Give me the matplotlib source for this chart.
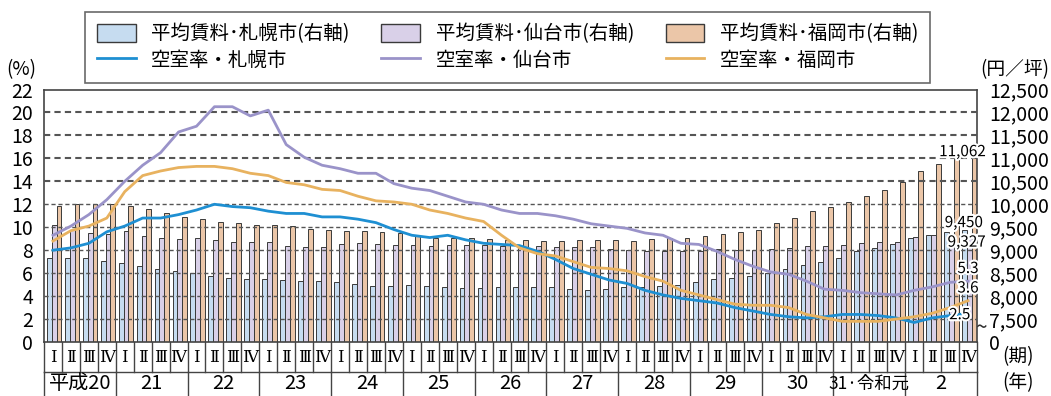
import numpy as np
import matplotlib.pyplot as plt
import matplotlib.transforms as mtransforms
from matplotlib.patches import Patch
from matplotlib.lines import Line2D
import matplotlib.patheffects as pe

plt.rcParams['font.family'] = ['Noto Sans CJK JP', 'DejaVu Sans']

quarters = ['Ⅰ', 'Ⅱ', 'Ⅲ', 'Ⅳ'] * 13
years = ['平成20', '21', '22', '23', '24', '25', '26', '27', '28', '29', '30', '31·令和元', '2']

# 平均賃料 (円/坪)
rent_sapporo = [8840, 8840, 8840, 8767, 8716, 8666, 8600, 8557, 8499, 8441, 8397, 8368, 8368,
                8346, 8324, 8324, 8303, 8274, 8223, 8223, 8245, 8223, 8208, 8172, 8172, 8194,
                8194, 8194, 8194, 8150, 8136, 8157, 8194, 8208, 8230, 8245, 8303, 8368, 8404,
                8441, 8513, 8593, 8673, 8746, 8840, 8992, 9043, 9130, 9261, 9341, 9399, 9450]
rent_sendai = [9551, 9435, 9377, 9348, 9421, 9312, 9261, 9239, 9261, 9225, 9188, 9174, 9188,
               9101, 9079, 9079, 9130, 9152, 9130, 9108, 9108, 9094, 9116, 9116, 9116, 9094,
               9094, 9101, 9079, 9079, 9065, 9029, 9014, 8992, 8978, 8985, 8992, 9029, 9014,
               9014, 9029, 9043, 9087, 9101, 9116, 9152, 9174, 9188, 9283, 9333, 9350, 9327]
rent_fukuoka = [9958, 10009, 10009, 10009, 9958, 9892, 9813, 9725, 9675, 9624, 9595, 9551, 9551,
                9529, 9464, 9435, 9413, 9413, 9392, 9377, 9341, 9268, 9261, 9261, 9239, 9225,
                9225, 9210, 9210, 9225, 9225, 9225, 9203, 9239, 9261, 9275, 9312, 9348, 9399,
                9450, 9588, 9711, 9849, 9936, 10059, 10176, 10321, 10480, 10720, 10887, 10996, 11062]

# 空室率 (%)
vac_sapporo = [8.0, 8.2, 8.6, 9.6, 10.1, 10.8, 10.8, 11.1, 11.5, 12.0, 11.8, 11.7, 11.4,
               11.2, 11.2, 10.9, 10.9, 10.7, 10.4, 9.8, 9.3, 9.1, 9.3, 8.9, 8.6, 8.5,
               8.4, 7.9, 7.2, 6.4, 5.9, 5.4, 5.1, 4.5, 4.1, 3.8, 3.6, 3.4, 3.0,
               2.7, 2.4, 2.2, 2.1, 2.2, 2.4, 2.4, 2.3, 2.1, 1.7, 2.1, 2.3, 2.5]
vac_sendai = [9.3, 10.1, 11.1, 12.4, 14.0, 15.4, 16.5, 18.3, 18.8, 20.5, 20.5, 19.7, 20.2,
              17.2, 16.1, 15.4, 15.1, 14.7, 14.7, 13.8, 13.4, 13.2, 12.7, 12.2, 12.0, 11.5,
              11.2, 11.2, 11.0, 10.7, 10.3, 10.1, 9.9, 9.5, 9.3, 8.6, 8.5, 7.9, 7.2,
              6.6, 6.1, 5.9, 5.3, 4.6, 4.5, 4.3, 4.2, 4.1, 4.5, 4.8, 5.2, 5.3]
vac_fukuoka = [8.8, 9.7, 10.1, 10.8, 13.1, 14.5, 14.9, 15.2, 15.3, 15.3, 15.1, 14.7, 14.5,
               13.9, 13.7, 13.3, 13.2, 12.7, 12.3, 12.2, 12.0, 11.5, 11.2, 10.8, 10.5, 9.3,
               8.2, 7.7, 7.5, 7.0, 6.5, 6.4, 6.2, 5.7, 5.3, 4.5, 4.1, 3.7, 3.3,
               3.2, 3.2, 3.0, 2.4, 2.1, 1.8, 1.8, 1.8, 2.0, 2.2, 2.5, 3.0, 3.6]

c_bar = ['#c6dcf0', '#d9d0e8', '#ebc6a8']
c_line = ['#1e8fd2', '#9a93c9', '#e8b25f']
edge = '#3a3a3a'

fig = plt.figure(figsize=(10.51, 3.96), dpi=100)
ax = fig.add_axes([44 / 1051, 1 - 342 / 396, 933 / 1051, 252.5 / 396])
x = np.arange(len(quarters))
w = 0.27
base = 7000
for off, vals, col in [(-0.2, rent_sapporo, c_bar[0]), (0.07, rent_sendai, c_bar[1]),
                       (0.34, rent_fukuoka, c_bar[2])]:
    ax.bar(x + off, np.array(vals) - base, w, bottom=base, color=col,
           edgecolor=edge, linewidth=0.7, zorder=2)
ax.set_xlim(-0.5, len(quarters) - 0.5)
ax.set_ylim(base, 12500)
ax.set_xticks([])
for s in ax.spines.values():
    s.set_color('#444')
    s.set_linewidth(1.2)

ax2 = ax.twinx()
ax2.set_ylim(0, 22)
ax2.yaxis.tick_left()
ax2.yaxis.set_label_position('left')
ax2.set_yticks(range(0, 23, 2))
ax2.tick_params(axis='y', length=0, pad=8, labelsize=14)
for s in ax2.spines.values():
    s.set_visible(False)

# right axis (rent) after twinx, which resets the ticks of ax
ax.yaxis.tick_right()
rticks = [7000] + list(range(7500, 12501, 500))
ax.set_yticks(rticks)
ax.set_yticklabels(['0'] + [f'{t:,}' for t in rticks[1:]])
ax.tick_params(axis='y', length=0, pad=9, labelsize=14)

for g in range(2, 21, 2):
    ax2.axhline(g, color='#555555', lw=1.5 if g >= 14 else 1.0, ls=(0, (3, 2)), zorder=1)
for vals, col in [(vac_sapporo, c_line[0]), (vac_sendai, c_line[1]), (vac_fukuoka, c_line[2])]:
    ax2.plot(x, vals, color=col, lw=2.0, zorder=3)

# end labels
halo = [pe.withStroke(linewidth=3, foreground='white')]
last = len(quarters) - 1
ax2.annotate(f'{rent_fukuoka[-1]:,}', (last, 15.6), xytext=(-4, 2),
             textcoords='offset points', ha='center', va='bottom', fontsize=11, path_effects=halo)
ax2.annotate(f'{rent_sapporo[-1]:,}', (last, 10.4), xytext=(-3, 0),
             textcoords='offset points', ha='center', va='center', fontsize=11, path_effects=halo,
             zorder=5)
ax2.annotate(f'{rent_sendai[-1]:,}', (last, 8.7), xytext=(-1, 0),
             textcoords='offset points', ha='center', va='center', fontsize=11, path_effects=halo,
             zorder=5)
for vals, dx, dy in [(vac_sendai, 0, 3), (vac_fukuoka, 0, 3), (vac_sapporo, -6, -1)]:
    ax2.annotate(f'{vals[-1]}', (last, vals[-1]), xytext=(dx, dy), textcoords='offset points',
                 ha='center', va='bottom' if dy > 0 else 'center', fontsize=11, path_effects=halo,
                 zorder=5)
ax.text(1.004, 7310, '~', transform=mtransforms.blended_transform_factory(ax.transAxes, ax.transData),
        ha='center', va='center', fontsize=15, color='#333', clip_on=False, zorder=6)

# quarter / year table under the axis
tr = mtransforms.blended_transform_factory(ax.transData, ax.transAxes)
yq, yy = -30 / 252.5, -56 / 252.5
lkw = dict(color='#444', lw=1.0, transform=tr, clip_on=False)
ax.plot([-0.5, last + 0.5], [yq, yq], **lkw)
for i in range(len(quarters) + 1):
    ax.plot([i - 0.5, i - 0.5], [0, yq], **lkw)
for k in range(len(years) + 1):
    ax.plot([4 * k - 0.5, 4 * k - 0.5], [yq, yy], **lkw)
for i, q in enumerate(quarters):
    ax.text(i, yq / 2, q, transform=tr, ha='center', va='center', fontsize=12,
            family=['DejaVu Serif', 'Noto Sans CJK JP'])
for k, yl in enumerate(years):
    ax.text(4 * k + 1.5, (yq + yy) / 2 + 0.005, yl, transform=tr, ha='center', va='center',
            fontsize=12.5 if len(yl) > 4 else 14.5)

fig.text(1018 / 1051, 1 - 357 / 396, '(期)', ha='center', va='center', fontsize=13.5)
fig.text(1018 / 1051, 1 - 383 / 396, '(年)', ha='center', va='center', fontsize=13.5)
fig.text(21 / 1051, 1 - 70 / 396, '(%)', ha='center', va='center', fontsize=13.5)
fig.text(1015 / 1051, 1 - 70 / 396, '(円／坪)', ha='center', va='center', fontsize=13.5)

handles = [Patch(facecolor=c_bar[0], edgecolor=edge), Line2D([], [], color=c_line[0], lw=2),
           Patch(facecolor=c_bar[1], edgecolor=edge), Line2D([], [], color=c_line[1], lw=2),
           Patch(facecolor=c_bar[2], edgecolor=edge), Line2D([], [], color=c_line[2], lw=2)]
labels = ['平均賃料･札幌市(右軸)', '空室率・札幌市', '平均賃料･仙台市(右軸)', '空室率・仙台市',
          '平均賃料･福岡市(右軸)', '空室率・福岡市']
leg = fig.legend(handles, labels, ncol=3, loc='lower left', mode='expand',
                 bbox_to_anchor=(85 / 1051, 1 - 83 / 396, 845 / 1051, 71 / 396),
                 fontsize=14, frameon=True, fancybox=False, borderaxespad=0,
                 handlelength=2.0, handleheight=1.1, labelspacing=0.3, borderpad=0.6)
leg.get_frame().set_edgecolor('#444')
leg.get_frame().set_linewidth(1.2)

fig.savefig('out.png', dpi=100)
